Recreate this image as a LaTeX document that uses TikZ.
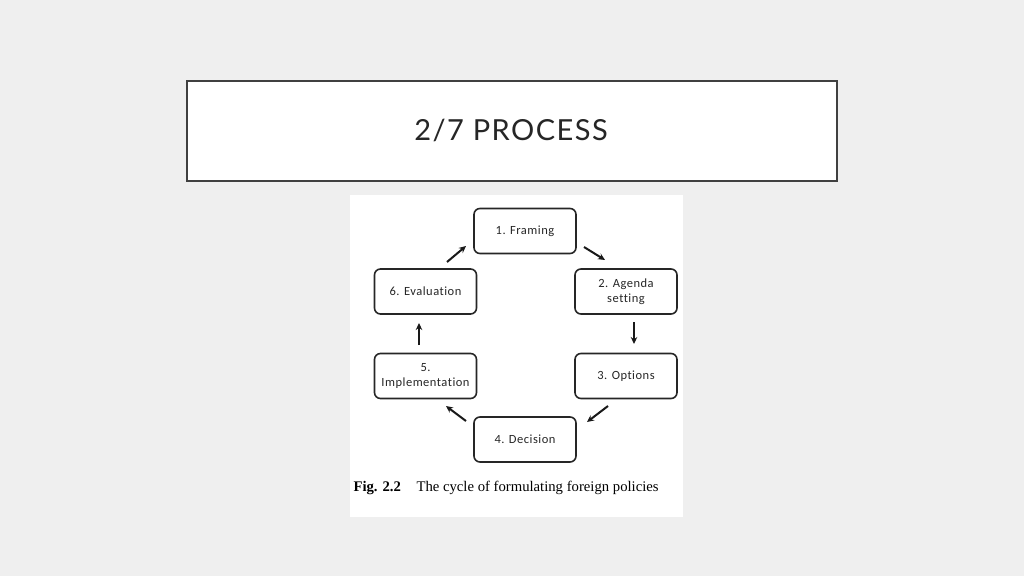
\documentclass[tikz,border=0pt]{standalone}
\usepackage{fontspec}
\setmainfont{Liberation Serif}
\newfontfamily\titlefont[LetterSpace=5]{Lato}
\newfontfamily\boxfont[LetterSpace=4, Ligatures=NoCommon]{Carlito}
\usetikzlibrary{arrows.meta}
\definecolor{slidebg}{HTML}{EFEFEF}
\definecolor{titleline}{HTML}{404040}
\definecolor{boxline}{HTML}{262626}

\begin{document}
\begin{tikzpicture}[x=1pt, y=-1pt,
		stage/.style={draw=boxline, line width=1.6pt, rounded corners=6pt, fill=white,
			minimum width=102pt, minimum height=45pt, align=center,
			font=\boxfont\fontsize{12.5}{15}\selectfont, text=black!85},
		flow/.style={-{Stealth[length=7pt, width=6.5pt]}, line width=2pt, draw=black!90}]
				
				\fill[slidebg] (0,0) rectangle (1024,576);
				\useasboundingbox (0,0) rectangle (1024,576);
				
				\draw[line width=2.6pt, draw=titleline, fill=white] (187,81) rectangle (837,181);
				\node (title) at (511,130) {\titlefont\fontsize{29}{34}\selectfont\color{black!85}2/7 PROCESS};
				
				\fill[white] (350,195) rectangle (683,517);
				
				\node[stage] (fram) at (525,231) {1. Framing};
				\node[stage] (agenda) at (626,291.5) {2. Agenda\\setting};
				\node[stage] (opts) at (626,376) {3. Options};
				\node[stage] (dec) at (525,439.5) {4. Decision};
				\node[stage] (impl) at (425.5,376) {5.\\Implementation};
				\node[stage] (eval) at (425.5,291.5) {6. Evaluation};
				
				\coordinate (s12) at (584,247);
				\coordinate (e12) at (605,260);
				\coordinate (s23) at (634,322);
				\coordinate (e23) at (634,344);
				\coordinate (s34) at (608,406);
				\coordinate (e34) at (587,422);
				\coordinate (s45) at (466,421);
				\coordinate (e45) at (446,406);
				\coordinate (s56) at (419,345);
				\coordinate (e56) at (419,323);
				\coordinate (s61) at (447,262);
				\coordinate (e61) at (466,246);
				
				\draw[flow] (s12)--(e12);
				\draw[flow] (s23)--(e23);
				\draw[flow] (s34)--(e34);
				\draw[flow] (s45)--(e45);
				\draw[flow] (s56)--(e56);
				\draw[flow] (s61)--(e61);
				
				\node[anchor=west, font=\fontsize{14.7}{17}\selectfont\bfseries] (fignum) at (350,488) {Fig. 2.2};
				\node[anchor=west, font=\fontsize{14.7}{17}\selectfont] (caption) at (413,488) {The cycle of formulating foreign policies};
				
\end{tikzpicture}
\end{document}
